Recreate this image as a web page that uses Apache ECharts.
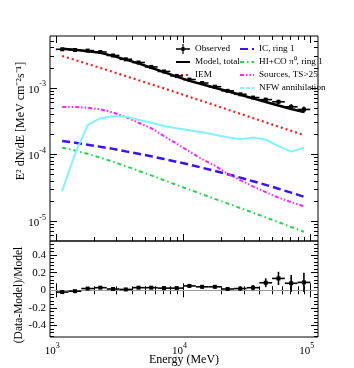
<!DOCTYPE html>
<html>
<head>
<meta charset="utf-8">
<script src="https://cdn.jsdelivr.net/npm/echarts@6/dist/echarts.min.js"></script>
<style>
  html, body { margin: 0; padding: 0; background: #fff; }
  #chart { width: 354px; height: 368px; }
</style>
</head>
<body>
<div id="chart"></div>
<script>
// bin centres and edges (MeV)
const energy = [1122, 1413, 1778, 2239, 2818, 3548, 4467, 5623, 7079, 8913,
  11220, 14125, 17783, 22387, 28184, 35481, 44668, 56234, 70795, 89125];
const binEdges = [1000, 1259, 1585, 1995, 2512, 3162, 3981, 5012, 6310, 7943, 10000,
  12589, 15849, 19953, 25119, 31623, 39811, 50119, 63096, 79433, 100000];

// E^2 dN/dE [MeV cm^-2 s^-1]
const observed = [3.79e-3, 3.70e-3, 3.62e-3, 3.45e-3, 3.06e-3, 2.68e-3, 2.40e-3, 2.06e-3, 1.76e-3, 1.51e-3,
  1.33e-3, 1.18e-3, 1.04e-3, 9.0e-4, 8.0e-4, 7.14e-4, 6.65e-4, 6.16e-4, 5.18e-4, 4.73e-4];
const observedErr = [4.5e-5, 4.4e-5, 4.3e-5, 4.1e-5, 3.7e-5, 3.2e-5, 3.1e-5, 2.7e-5, 2.5e-5, 2.3e-5,
  2.1e-5, 2.1e-5, 2.1e-5, 2.0e-5, 2.0e-5, 2.1e-5, 3.3e-5, 4.6e-5, 4.9e-5, 5.2e-5];
const modelTotal = [3.87e-3, 3.74e-3, 3.55e-3, 3.35e-3, 3.02e-3, 2.65e-3, 2.33e-3, 2.00e-3, 1.72e-3, 1.47e-3,
  1.27e-3, 1.13e-3, 1.00e-3, 8.87e-4, 7.85e-4, 6.93e-4, 6.12e-4, 5.43e-4, 4.80e-4, 4.34e-4];
const iem = [3.01e-3, 2.62e-3, 2.28e-3, 1.99e-3, 1.73e-3, 1.50e-3, 1.30e-3, 1.13e-3, 9.8e-4, 8.5e-4,
  7.3e-4, 6.34e-4, 5.47e-4, 4.71e-4, 4.07e-4, 3.51e-4, 3.03e-4, 2.61e-4, 2.26e-4, 1.95e-4];
const icRing1 = [1.59e-4, 1.50e-4, 1.40e-4, 1.30e-4, 1.21e-4, 1.11e-4, 1.02e-4, 9.36e-5, 8.53e-5, 7.74e-5,
  7.01e-5, 6.30e-5, 5.64e-5, 5.03e-5, 4.48e-5, 3.95e-5, 3.48e-5, 3.05e-5, 2.66e-5, 2.31e-5];
const pi0Ring1 = [1.27e-4, 1.14e-4, 1.02e-4, 8.93e-5, 7.74e-5, 6.65e-5, 5.68e-5, 4.83e-5, 4.10e-5, 3.48e-5,
  2.96e-5, 2.52e-5, 2.15e-5, 1.84e-5, 1.56e-5, 1.33e-5, 1.13e-5, 9.6e-6, 8.13e-6, 6.89e-6];
const sources = [5.15e-4, 5.14e-4, 5.04e-4, 4.76e-4, 4.25e-4, 3.64e-4, 2.99e-4, 2.47e-4, 1.89e-4, 1.45e-4,
  1.10e-4, 8.47e-5, 6.77e-5, 5.14e-5, 4.10e-5, 3.30e-5, 2.71e-5, 2.24e-5, 1.92e-5, 1.66e-5];
const nfw = [2.81e-5, 1.01e-4, 2.74e-4, 3.49e-4, 3.74e-4, 3.67e-4, 3.31e-4, 2.99e-4, 2.67e-4, 2.47e-4,
  2.31e-4, 2.15e-4, 1.97e-4, 1.81e-4, 1.69e-4, 1.79e-4, 1.66e-4, 1.33e-4, 1.10e-4, 1.26e-4];

// (Data-Model)/Model
const residual = [-0.02, -0.01, 0.02, 0.03, 0.015, 0.01, 0.03, 0.03, 0.025, 0.025,
  0.05, 0.04, 0.04, 0.015, 0.02, 0.03, 0.086, 0.135, 0.08, 0.09];
const residualErr = [0.012, 0.012, 0.012, 0.012, 0.012, 0.012, 0.013, 0.013, 0.014, 0.015,
  0.016, 0.018, 0.02, 0.022, 0.025, 0.03, 0.05, 0.075, 0.095, 0.11];

// tick positions
const xMajorTicks = [1000, 10000, 100000];
const xMinorTicks = [2000, 3000, 4000, 5000, 6000, 7000, 8000, 9000,
  20000, 30000, 40000, 50000, 60000, 70000, 80000, 90000];
const yMajorTicks = [1e-5, 1e-4, 1e-3];
const yMinorTicks = [6e-6, 7e-6, 8e-6, 9e-6, 2e-5, 3e-5, 4e-5, 5e-5, 6e-5, 7e-5, 8e-5, 9e-5,
  2e-4, 3e-4, 4e-4, 5e-4, 6e-4, 7e-4, 8e-4, 9e-4, 2e-3, 3e-3, 4e-3, 5e-3];
const resMajorTicks = [-0.4, -0.2, 0, 0.2, 0.4];
const resMinorTicks = [-0.52, -0.48, -0.44, -0.36, -0.32, -0.28, -0.24, -0.16, -0.12, -0.08, -0.04,
  0.04, 0.08, 0.12, 0.16, 0.24, 0.28, 0.32, 0.36, 0.44, 0.48, 0.52];

const FONT = 'Liberation Serif';
const chart = echarts.init(document.getElementById('chart'));

const powRich = {
  m: { fontFamily: FONT, fontSize: 11, color: '#000', padding: [4, 0, 0, 0], verticalAlign: 'bottom' },
  s: { fontFamily: FONT, fontSize: 8, color: '#000', verticalAlign: 'top' }
};
function powLabel(v) {
  return '{m|10}{s|' + Math.round(Math.log10(v)) + '}';
}

function xAxis(grid, pos, ticks, len, label) {
  return {
    type: 'log', logBase: 10, min: 900, max: 115000, gridIndex: grid, position: pos,
    axisLine: { show: false },
    axisTick: { show: true, inside: true, length: len, customValues: ticks, lineStyle: { color: '#000', width: 1 } },
    axisLabel: label || { show: false },
    splitLine: { show: false }
  };
}
function yLogAxis(pos, ticks, len, label) {
  return {
    type: 'log', logBase: 10, min: 5e-6, max: 6e-3, gridIndex: 0, position: pos,
    axisLine: { show: false },
    axisTick: { show: true, inside: true, length: len, customValues: ticks, lineStyle: { color: '#000', width: 1 } },
    axisLabel: label || { show: false },
    splitLine: { show: false }
  };
}
function yResAxis(pos, ticks, len, label) {
  return {
    type: 'value', min: -0.53, max: 0.56, gridIndex: 1, position: pos,
    axisLine: { show: false },
    axisTick: { show: true, inside: true, length: len, customValues: ticks, lineStyle: { color: '#000', width: 1 } },
    axisLabel: label || { show: false },
    splitLine: { show: false }
  };
}

function errorBars(markerSize) {
  return function (params, api) {
    const c = api.coord([api.value(0), api.value(1)]);
    const lo = api.coord([api.value(2), api.value(1)]);
    const hi = api.coord([api.value(3), api.value(1)]);
    const up = api.coord([api.value(0), api.value(1) + api.value(4)]);
    const dn = api.coord([api.value(0), api.value(1) - api.value(4)]);
    const st = { stroke: '#000', lineWidth: 1.6 };
    return {
      type: 'group',
      children: [
        { type: 'line', shape: { x1: lo[0], y1: lo[1], x2: hi[0], y2: hi[1] }, style: st },
        { type: 'line', shape: { x1: up[0], y1: up[1], x2: dn[0], y2: dn[1] }, style: st },
        { type: 'rect', shape: { x: c[0] - markerSize / 2, y: c[1] - markerSize / 2, width: markerSize, height: markerSize }, style: { fill: '#000' } }
      ]
    };
  };
}

function pairs(vals) {
  return energy.map((e, i) => [e, vals[i]]);
}
function lineSeries(name, vals, color, width, type) {
  return {
    name: name, type: 'line', xAxisIndex: 0, yAxisIndex: 0,
    data: pairs(vals), symbol: 'none', showSymbol: false, animation: false,
    lineStyle: { color: color, width: width, type: type },
    itemStyle: { color: color }
  };
}

const obsData = energy.map((e, i) => [e, observed[i], binEdges[i], binEdges[i + 1], observedErr[i]]);
const resData = energy.map((e, i) => [e, residual[i], binEdges[i], binEdges[i + 1], residualErr[i]]);

const legendText = { fontFamily: FONT, fontSize: 9.2, color: '#000', lineHeight: 10 };

chart.setOption({
  animation: false,
  grid: [
    { left: 50, top: 36, width: 268, height: 205, show: true, borderColor: '#000', borderWidth: 1, backgroundColor: 'transparent' },
    { left: 50, top: 241, width: 268, height: 96, show: true, borderColor: '#000', borderWidth: 1, backgroundColor: 'transparent' }
  ],
  xAxis: [
    xAxis(0, 'bottom', xMajorTicks, 7),
    xAxis(0, 'bottom', xMinorTicks, 4),
    xAxis(0, 'top', xMajorTicks, 7),
    xAxis(0, 'top', xMinorTicks, 4),
    xAxis(1, 'bottom', xMajorTicks, 7, {
      show: true, customValues: xMajorTicks, formatter: powLabel, rich: powRich, margin: 5, padding: [0, 7, 0, 0]
    }),
    xAxis(1, 'bottom', xMinorTicks, 4),
    xAxis(1, 'top', xMajorTicks, 7),
    xAxis(1, 'top', xMinorTicks, 4)
  ],
  yAxis: [
    yLogAxis('left', yMajorTicks, 7, {
      show: true, customValues: yMajorTicks, formatter: powLabel, rich: powRich, margin: 4
    }),
    yLogAxis('left', yMinorTicks, 4),
    yLogAxis('right', yMajorTicks, 7),
    yLogAxis('right', yMinorTicks, 4),
    yResAxis('left', resMajorTicks, 7, {
      show: true, customValues: resMajorTicks, margin: 4,
      fontFamily: FONT, fontSize: 11, color: '#000',
      formatter: v => (Math.abs(v) < 1e-9 ? '0' : v.toFixed(1))
    }),
    yResAxis('left', resMinorTicks, 4),
    yResAxis('right', resMajorTicks, 7),
    yResAxis('right', resMinorTicks, 4)
  ],
  legend: [
    {
      left: 170, top: 39, orient: 'vertical', itemWidth: 14, itemHeight: 10, itemGap: 3,
      selectedMode: false, textStyle: legendText, itemStyle: { opacity: 0 },
      data: [
        { name: 'Observed', icon: 'path://M0,4.3L14,4.3L14,5.7L0,5.7Z M5.5,3L8.5,3L8.5,7L5.5,7Z M6.4,0L7.6,0L7.6,10L6.4,10Z', itemStyle: { color: '#000', opacity: 1 } },
        'Model, total', 'IEM'
      ]
    },
    {
      left: 234, top: 39, orient: 'vertical', itemWidth: 14, itemHeight: 10, itemGap: 3,
      selectedMode: false, textStyle: legendText, itemStyle: { opacity: 0 },
      data: ['IC, ring 1', 'HI+CO π⁰, ring 1', 'Sources, TS>25',
        { name: 'NFW annihilation', lineStyle: { type: [4, 2] } }]
    }
  ],
  graphic: [
    {
      type: 'text', x: 21, y: 121, rotation: Math.PI / 2,
      style: { text: 'E² dN/dE [MeV cm⁻²s⁻¹]', fontFamily: FONT, fontSize: 12, fill: '#000', align: 'center', verticalAlign: 'middle' }
    },
    {
      type: 'text', x: 19, y: 295, rotation: Math.PI / 2,
      style: { text: '(Data-Model)/Model', fontFamily: FONT, fontSize: 11.5, fill: '#000', align: 'center', verticalAlign: 'middle' }
    },
    {
      type: 'text', x: 184, y: 360,
      style: { text: 'Energy (MeV)', fontFamily: FONT, fontSize: 12, fill: '#000', align: 'center', verticalAlign: 'middle' }
    }
  ],
  series: [
    lineSeries('IEM', iem, '#ff1a1a', 2.2, [2, 3]),
    lineSeries('IC, ring 1', icRing1, '#3a10ff', 2.5, [8, 4]),
    lineSeries('HI+CO π⁰, ring 1', pi0Ring1, '#1ed84a', 2, [4, 3, 1.5, 3]),
    lineSeries('Sources, TS>25', sources, '#ff22ff', 2, [4, 2, 1.5, 2, 1.5, 2]),
    lineSeries('NFW annihilation', nfw, '#7ff4ff', 2, 'solid'),
    lineSeries('Model, total', modelTotal, '#000000', 2.5, 'solid'),
    {
      name: 'Observed', type: 'custom', xAxisIndex: 0, yAxisIndex: 0,
      data: obsData, encode: { x: 0, y: 1 }, renderItem: errorBars(4), z: 5,
      itemStyle: { color: '#000' }
    },
    {
      name: 'residual', type: 'custom', xAxisIndex: 4, yAxisIndex: 4,
      data: resData, encode: { x: 0, y: 1 }, renderItem: errorBars(4), z: 5,
      markLine: {
        silent: true, symbol: 'none', label: { show: false },
        lineStyle: { color: '#9a9a9a', width: 1.2, type: 'solid' },
        data: [{ yAxis: 0 }]
      }
    }
  ]
});
</script>
</body>
</html>
